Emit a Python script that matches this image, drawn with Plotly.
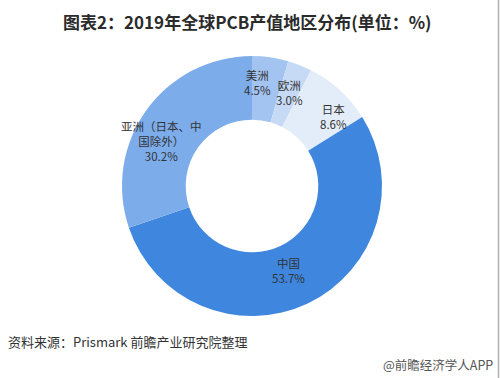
import math
import plotly.graph_objects as go

# Data (clockwise from 12 o'clock)
regions = ["美洲", "欧洲", "日本", "中国", "亚洲（日本、中<br>国除外）"]
shares = [4.5, 3.0, 8.6, 53.7, 30.2]
colors = ["#a3c4f0", "#c6daf6", "#e3edfa", "#3f86de", "#7cacea"]

title_text = "<b>图表2：2019年全球PCB产值地区分布(单位：%)</b>"
source_text = "资料来源：Prismark 前瞻产业研究院整理"
brand_text = "@前瞻经济学人APP"

W, H = 500, 378
cx_px, cy_px, R = 252, 186, 130
hole = 0.51

fig = go.Figure(go.Pie(
    values=shares,
    labels=regions,
    marker=dict(colors=colors, line=dict(width=0)),
    hole=hole,
    sort=False,
    direction="clockwise",
    rotation=0,
    textinfo="none",
    hoverinfo="label+value",
    showlegend=False,
    domain=dict(x=[(cx_px - R) / W, (cx_px + R) / W],
                y=[(H - cy_px - R) / H, (H - cy_px + R) / H]),
))

# labels placed at mid-angle of each slice
total = sum(shares)
cum = 0
label_r = [104, 101, 107, 92, 101]
angle_nudge = [-5, 0, 7, 2, -9]
for i, (name, v) in enumerate(zip(regions, shares)):
    mid = (cum + v / 2) / total * 360 + angle_nudge[i]
    cum += v
    a = math.radians(mid)
    x = cx_px + label_r[i] * math.sin(a)
    y = cy_px - label_r[i] * math.cos(a)
    fig.add_annotation(
        x=x / W, y=1 - y / H, xref="paper", yref="paper",
        text=f"{name}<br>{v:.1f}%", showarrow=False,
        font=dict(size=11.5, color="#333333", family="Noto Sans CJK SC"),
        xanchor="center", yanchor="middle", align="center",
    )

fig.add_annotation(x=247 / W, y=1 - 22 / H, xref="paper", yref="paper",
                   text=title_text, showarrow=False,
                   font=dict(size=17, color="#2b2b2b", family="Noto Sans CJK SC"),
                   xanchor="center", yanchor="middle")
fig.add_annotation(x=6 / W, y=1 - 341 / H, xref="paper", yref="paper",
                   text=source_text, showarrow=False,
                   font=dict(size=13, color="#333333", family="Noto Sans CJK SC"),
                   xanchor="left", yanchor="middle")
fig.add_annotation(x=495 / W, y=1 - 364 / H, xref="paper", yref="paper",
                   text=brand_text, showarrow=False,
                   font=dict(size=12.5, color="#555555", family="Noto Sans CJK SC"),
                   xanchor="right", yanchor="middle")

fig.add_shape(type="line", xref="paper", yref="paper",
              x0=498.5 / W, x1=498.5 / W, y0=0, y1=1,
              line=dict(color="#b0b0b0", width=1.5))

fig.update_layout(
    width=W, height=H,
    margin=dict(l=0, r=0, t=0, b=0),
    paper_bgcolor="white", plot_bgcolor="white",
)

fig.write_html("out.html",
               config={"displayModeBar": False},
               post_script="document.body.style.margin='0';document.body.style.overflow='hidden';")
